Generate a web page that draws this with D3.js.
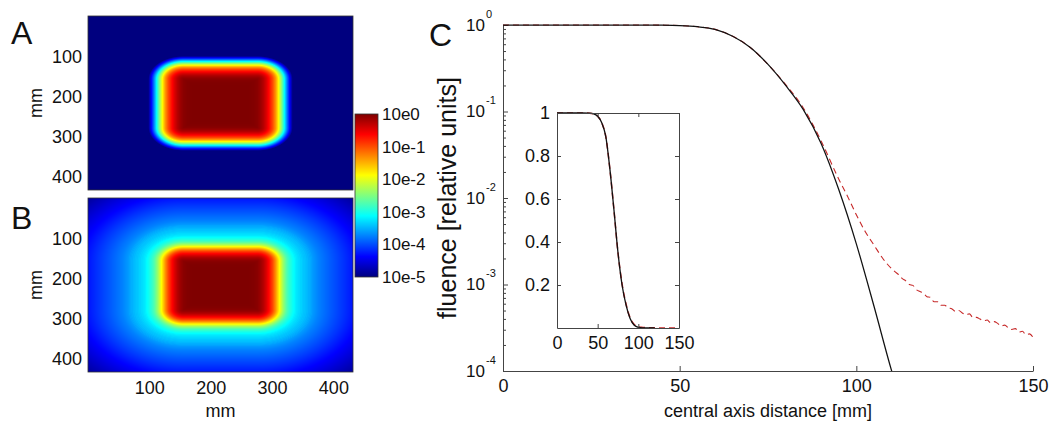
<!DOCTYPE html>
<html>
<head>
<meta charset="utf-8">
<script src="https://cdn.jsdelivr.net/npm/d3@7"></script>
<style>
  html, body { margin: 0; padding: 0; background: #fff; }
  svg { display: block; font-family: "Liberation Sans", Arial, sans-serif; }
</style>
</head>
<body>
<svg id="fig" width="1050" height="423"></svg>
<script>
// ---- central-axis profiles (distance in mm, relative fluence) ----
// primary beam only (solid black)
const primaryDistance = [0, 10, 20, 30, 40, 45, 50, 55, 60, 65, 70, 75, 80, 85, 90, 95, 100, 105, 110, 115, 120];
const primaryFluence  = [1, 1, 1, 1, 0.999, 0.996, 0.985, 0.955, 0.89, 0.74, 0.55, 0.35, 0.2, 0.105, 0.043,
                         0.0126, 0.00295, 0.00056, 0.0001, 0.000022, 0.000005];
// primary + scatter (dashed red)
const totalDistance = [0, 10, 20, 30, 40, 45, 50, 55, 60, 65, 70, 75, 80, 85, 90, 95, 97.5, 100, 102.5, 105, 107.5,
                       110, 111, 112, 113, 114, 115, 116, 117, 118, 119, 120, 121, 122, 123, 124, 125, 126, 127, 128, 129,
                       130, 131, 132, 133, 134, 135, 136, 137, 138, 139, 140, 141, 142, 143, 144, 145, 146, 147, 148, 149, 150];
const totalFluence  = [1, 1, 1, 1, 0.999, 0.996, 0.985, 0.955, 0.89, 0.74, 0.55, 0.35, 0.205, 0.11, 0.046, 0.0166, 0.0105,
                       0.0064, 0.0041, 0.00285, 0.0020,
                       1.52e-3, 1.40e-3, 1.30e-3, 1.17e-3, 1.10e-3, 1.00e-3, 9.77e-4, 8.71e-4, 8.32e-4, 7.94e-4,
                       7.24e-4, 7.08e-4, 6.31e-4, 6.31e-4, 5.75e-4, 5.75e-4, 5.37e-4, 5.25e-4, 4.90e-4, 5.01e-4,
                       4.68e-4, 4.47e-4, 4.57e-4, 4.17e-4, 4.17e-4, 3.98e-4, 3.80e-4, 3.89e-4, 3.63e-4, 3.72e-4,
                       3.55e-4, 3.31e-4, 3.39e-4, 3.16e-4, 3.02e-4, 3.09e-4, 2.82e-4, 2.88e-4, 2.63e-4, 2.69e-4, 2.45e-4];
// total fluence further from the axis (reaches the edges of map B)
const tailDistance = [160, 180, 200, 220, 250, 280, 320];
const tailFluence  = [1.8e-4, 1.15e-4, 7.5e-5, 4.8e-5, 2.6e-5, 1.4e-5, 7e-6];

// field geometry of the maps (mm)
const mapExtent = 432;
const fieldCenter = [216, 217];
const fieldCore = 60;

// ticks and labels
const mapTicks = [100, 200, 300, 400];
const colorbarExponents = [0, -1, -2, -3, -4, -5];
const colorbarLabels = ["10e0", "10e-1", "10e-2", "10e-3", "10e-4", "10e-5"];
const distanceTicks = [0, 50, 100, 150];
const insetYTicks = [0.2, 0.4, 0.6, 0.8, 1];

const svg = d3.select("#fig");
const axisColor = "#444";

// jet colour map on log10(fluence), 1e-5 .. 1
const jet = d3.scaleLinear()
  .domain([-5, -4.375, -3.125, -1.875, -0.625, 0])
  .range(["#00007f", "#0000ff", "#00ffff", "#ffff00", "#ff0000", "#7f0000"])
  .clamp(true);

function logProfile(dist, flu) {
  return d3.scaleLinear().domain(dist).range(flu.map(v => Math.log10(v))).clamp(true);
}
const primaryLog = logProfile(primaryDistance, primaryFluence);
const totalLog = logProfile(totalDistance.concat(tailDistance), totalFluence.concat(tailFluence));

// distance from the beam axis measured through a rounded-square field
function fieldRadius(xmm, ymm) {
  const dx = Math.abs(xmm - fieldCenter[0]);
  const dy = Math.abs(ymm - fieldCenter[1]);
  if (dx <= fieldCore && dy <= fieldCore) return Math.max(dx, dy);
  const ex = Math.max(0, dx - fieldCore), ey = Math.max(0, dy - fieldCore);
  return fieldCore + Math.hypot(ex, ey);
}

function drawMap(x0, y0, x1, y1, logFn, letter, letterY, withXAxis) {
  const w = x1 - x0, h = y1 - y0;
  const xs = d3.scaleLinear().domain([0, mapExtent]).range([x0, x1]);
  const ys = d3.scaleLinear().domain([0, mapExtent]).range([y0, y1]);
  const canvas = document.createElement("canvas");
  canvas.width = w; canvas.height = h;
  const ctx = canvas.getContext("2d");
  const img = ctx.createImageData(w, h);
  for (let j = 0; j < h; j++) {
    const ymm = ys.invert(y0 + j + 0.5);
    for (let i = 0; i < w; i++) {
      const xmm = xs.invert(x0 + i + 0.5);
      const c = d3.rgb(jet(logFn(fieldRadius(xmm, ymm))));
      const k = (j * w + i) * 4;
      img.data[k] = c.r; img.data[k + 1] = c.g; img.data[k + 2] = c.b; img.data[k + 3] = 255;
    }
  }
  ctx.putImageData(img, 0, 0);
  svg.append("image").attr("x", x0).attr("y", y0).attr("width", w).attr("height", h)
    .attr("preserveAspectRatio", "none").attr("href", canvas.toDataURL());
  svg.append("rect").attr("x", x0).attr("y", y0).attr("width", w).attr("height", h)
    .attr("fill", "none").attr("stroke", "#333").attr("stroke-width", 0.8);

  const ya = svg.append("g").attr("transform", `translate(${x0},0)`)
    .call(d3.axisLeft(ys).tickValues(mapTicks).tickSize(0).tickPadding(6));
  ya.select(".domain").remove();
  ya.selectAll("text").attr("font-size", 18).attr("fill", "#111").attr("font-family", null);

  svg.append("text").attr("transform", `translate(42,${(y0 + y1) / 2}) rotate(-90)`)
    .attr("text-anchor", "middle").attr("font-size", 18).attr("fill", "#111").text("mm");

  if (withXAxis) {
    const xa = svg.append("g").attr("transform", `translate(0,${y1})`)
      .call(d3.axisBottom(xs).tickValues(mapTicks).tickSize(0).tickPadding(9));
    xa.select(".domain").remove();
    xa.selectAll("text").attr("font-size", 18).attr("fill", "#111").attr("font-family", null);
    svg.append("text").attr("x", (x0 + x1) / 2).attr("y", 417)
      .attr("text-anchor", "middle").attr("font-size", 18).attr("fill", "#111").text("mm");
  }
  svg.append("text").attr("x", 11).attr("y", letterY).attr("font-size", 32).attr("fill", "#111").text(letter);
}

drawMap(88, 16, 353, 190, primaryLog, "A", 44);
drawMap(88, 198, 353, 372, totalLog, "B", 229, true);

// ---- colour bar ----
const cb = { x: 355, w: 23, top: 114, bottom: 277 };
const cbScale = d3.scaleLinear().domain([0, -5]).range([cb.top, cb.bottom]);
const grad = svg.append("defs").append("linearGradient").attr("id", "jetGrad")
  .attr("x1", 0).attr("y1", 1).attr("x2", 0).attr("y2", 0);
jet.domain().forEach(v => {
  grad.append("stop").attr("offset", (v + 5) / 5).attr("stop-color", jet(v));
});
svg.append("rect").attr("x", cb.x).attr("y", cb.top).attr("width", cb.w).attr("height", cb.bottom - cb.top)
  .attr("fill", "url(#jetGrad)").attr("stroke", "#333").attr("stroke-width", 0.8);
svg.append("g").selectAll("text").data(colorbarExponents).join("text")
  .attr("x", cb.x + cb.w + 4).attr("y", d => cbScale(d)).attr("dy", "0.35em")
  .attr("font-size", 17).attr("fill", "#111")
  .text((d, i) => colorbarLabels[i]);

// ---- panel C: log profile ----
const x = d3.scaleLinear().domain([0, 150]).range([503, 1033]);
const y = d3.scaleLog().domain([1e-4, 1]).range([371, 25]);
const isDecade = d => Math.abs(Math.log10(d) - Math.round(Math.log10(d))) < 1e-6;

svg.append("defs").append("clipPath").attr("id", "mainClip")
  .append("rect").attr("x", 503).attr("y", 20).attr("width", 540).attr("height", 351);

const yAxis = svg.append("g").attr("transform", "translate(503,0)")
  .call(d3.axisLeft(y).tickValues(y.ticks()).tickSizeInner(-5).tickSizeOuter(0).tickPadding(18)
    .tickFormat(d => isDecade(d) ? "10" : ""));
yAxis.select(".domain").attr("stroke", axisColor);
yAxis.selectAll(".tick line").attr("stroke", axisColor).attr("x2", d => isDecade(d) ? 5 : 3);
yAxis.selectAll(".tick text").attr("font-size", 17).attr("fill", "#111").attr("font-family", null);
yAxis.selectAll(".tick").filter(isDecade)
  .append("text").attr("x", -17).attr("y", -8).attr("font-size", 11).attr("fill", "#111")
  .attr("text-anchor", "start").text(d => String(Math.round(Math.log10(d))));

const xAxis = svg.append("g").attr("transform", "translate(0,371)")
  .call(d3.axisBottom(x).tickValues(distanceTicks).tickSizeInner(-5).tickSizeOuter(0).tickPadding(8));
xAxis.select(".domain").attr("stroke", axisColor);
xAxis.selectAll(".tick line").attr("stroke", axisColor);
xAxis.selectAll(".tick text").attr("font-size", 18).attr("fill", "#111").attr("font-family", null);

svg.append("text").attr("x", 768).attr("y", 417).attr("text-anchor", "middle")
  .attr("font-size", 18).attr("fill", "#111").text("central axis distance [mm]");
svg.append("text").attr("transform", "translate(456,198) rotate(-90)").attr("text-anchor", "middle")
  .attr("font-size", 25).attr("fill", "#111").text("fluence [relative units]");
svg.append("text").attr("x", 429).attr("y", 46).attr("font-size", 32).attr("fill", "#111").text("C");

const lineMain = d3.line().x(d => x(d[0])).y(d => y(d[1])).curve(d3.curveMonotoneX);
const curves = svg.append("g").attr("clip-path", "url(#mainClip)");
curves.append("path").datum(d3.zip(totalDistance, totalFluence))
  .attr("d", lineMain).attr("fill", "none").attr("stroke", "#c62828").attr("stroke-width", 1.1)
  .attr("stroke-dasharray", "6,4");
curves.append("path").datum(d3.zip(primaryDistance, primaryFluence))
  .attr("d", lineMain).attr("fill", "none").attr("stroke", "#111").attr("stroke-width", 1.25);

// ---- inset: linear profile ----
const ix = d3.scaleLinear().domain([0, 150]).range([557, 679]);
const iy = d3.scaleLinear().domain([0, 1]).range([328, 113]);
svg.append("rect").attr("x", 557).attr("y", 113).attr("width", 122).attr("height", 215).attr("fill", "#fff");

const insetLine = d3.line().x(d => ix(d[0])).y(d => iy(d[1])).curve(d3.curveMonotoneX);
svg.append("path").datum(d3.zip(totalDistance, totalFluence))
  .attr("d", insetLine).attr("fill", "none").attr("stroke", "#c62828").attr("stroke-width", 1.5)
  .attr("stroke-dasharray", "6,4");
svg.append("path").datum(d3.zip(primaryDistance, primaryFluence))
  .attr("d", insetLine).attr("fill", "none").attr("stroke", "#111").attr("stroke-width", 1.3);

const ixB = svg.append("g").attr("transform", "translate(0,328)")
  .call(d3.axisBottom(ix).tickValues(distanceTicks).tickSizeInner(-4).tickSizeOuter(0).tickPadding(8));
const ixT = svg.append("g").attr("transform", "translate(0,113)")
  .call(d3.axisTop(ix).tickValues(distanceTicks).tickSizeInner(-4).tickSizeOuter(0).tickFormat(""));
const iyL = svg.append("g").attr("transform", "translate(557,0)")
  .call(d3.axisLeft(iy).tickValues(insetYTicks).tickSizeInner(-4).tickSizeOuter(0).tickPadding(7)
    .tickFormat(d => d === 1 ? "1" : d3.format(".1f")(d)));
const iyR = svg.append("g").attr("transform", "translate(679,0)")
  .call(d3.axisRight(iy).tickValues(insetYTicks).tickSizeInner(-4).tickSizeOuter(0).tickFormat(""));
[ixB, ixT, iyL, iyR].forEach(g => {
  g.select(".domain").attr("stroke", axisColor);
  g.selectAll(".tick line").attr("stroke", axisColor);
  g.selectAll(".tick text").attr("font-size", 18).attr("fill", "#111").attr("font-family", null);
});
</script>
</body>
</html>
